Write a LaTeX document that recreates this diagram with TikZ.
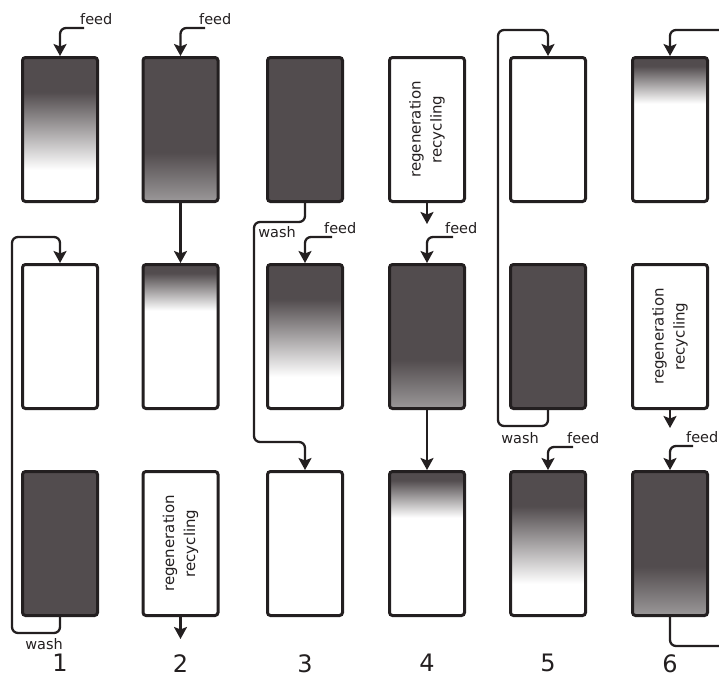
\documentclass[tikz,border=0pt]{standalone}
\usepackage{fontspec}
\setmainfont{DejaVu Sans}
\usepackage{xcolor}
\usepackage{tikz}
\usetikzlibrary{arrows.meta, positioning}
\definecolor{edgegray}{RGB}{35,31,32}
\definecolor{resin}{RGB}{82,76,78}
\definecolor{resinlow}{RGB}{155,152,153}
\pgfdeclareverticalshading{front}{100bp}{color(0bp)=(white); color(36bp)=(white); color(63bp)=(resin); color(100bp)=(resin)}
\pgfdeclareverticalshading{loaded}{100bp}{color(0bp)=(resinlow); color(25bp)=(resinlow); color(42bp)=(resin); color(100bp)=(resin)}
\pgfdeclareverticalshading{topband}{100bp}{color(0bp)=(white); color(59bp)=(white); color(72bp)=(resin); color(100bp)=(resin)}

\begin{document}
\begin{tikzpicture}[x=1pt, y=-1pt,
    col/.style={draw=edgegray, line width=3pt, rounded corners=3pt, minimum width=75pt, minimum height=144pt, inner sep=0pt},
    fullcol/.style={col, fill=resin},
    emptycol/.style={col, fill=white},
    frontcol/.style={col, shade, shading=front},
    loadedcol/.style={col, shade, shading=loaded},
    topcol/.style={col, shade, shading=topband},
    regencol/.style={col, fill=white, label={[rotate=90, align=center, text=edgegray, font=\fontsize{15}{21}\selectfont]center:regeneration\\recycling}},
    arr/.style={-{Stealth[length=12pt, width=13pt, inset=2.5pt]}, line width=2.3pt, edgegray, rounded corners=6pt},
    lbl/.style={font=\fontsize{14.5}{17}\selectfont, text=edgegray, inner sep=0pt},
    num/.style={font=\fontsize{24}{28}\selectfont, text=edgegray, inner sep=0pt}
]
\useasboundingbox (0,0) rectangle (719,680);

% first row
\node[frontcol] (a1) at (60,129.5) {};
\node[loadedcol] (a2) at (180.5,129.5) {};
\node[fullcol] (a3) at (305,129.5) {};
\node[regencol] (a4) at (427,129.5) {};
\node[emptycol] (a5) at (548,129.5) {};
\node[topcol] (a6) at (670,129.5) {};
% second row
\node[emptycol] (b1) at (60,336.5) {};
\node[topcol] (b2) at (180.5,336.5) {};
\node[frontcol] (b3) at (305,336.5) {};
\node[loadedcol] (b4) at (427,336.5) {};
\node[fullcol] (b5) at (548,336.5) {};
\node[regencol] (b6) at (670,336.5) {};
% third row
\node[fullcol] (c1) at (60,543.5) {};
\node[regencol] (c2) at (180.5,543.5) {};
\node[emptycol] (c3) at (305,543.5) {};
\node[topcol] (c4) at (427,543.5) {};
\node[frontcol] (c5) at (548,543.5) {};
\node[loadedcol] (c6) at (670,543.5) {};

% step numbers
\node[num, below=37pt of c1] (n1) {1};
\node[num, below=37pt of c2] (n2) {2};
\node[num, below=37pt of c3] (n3) {3};
\node[num, below=37pt of c4] (n4) {4};
\node[num, below=37pt of c5] (n5) {5};
\node[num, below=37pt of c6] (n6) {6};

% step 1
\coordinate (in1) at (84,28);
\node[lbl, above right=3pt and -4pt of in1] (fd1) {feed};
\draw[arr] (in1) -| (a1.north);
\coordinate (w1a) at (12,633);
\coordinate (w1b) at (12,237);
\draw[arr] (c1.south) |- (w1a) -- (w1b) -| (b1.north);
\node[lbl] (wa1) at (44,644) {wash};

% step 2
\coordinate (in2) at (205,28);
\node[lbl, above right=3pt and -6pt of in2] (fd2) {feed};
\draw[arr] (in2) -| (a2.north);
\draw[arr] (a2.south) -- (b2.north);
\coordinate (out2) at (180.5,639);
\draw[arr] (c2.south) -- (out2);

% step 3
\coordinate (w3a) at (254,222);
\coordinate (w3b) at (254,442);
\draw[arr] (a3.south) |- (w3a) -- (w3b) -| (c3.north);
\node[lbl] (wa3) at (277,232) {wash};
\coordinate (in3) at (332,237);
\node[lbl, above right=3pt and -8pt of in3] (fd3) {feed};
\draw[arr] (in3) -| (b3.north);

% step 4
\coordinate (out4) at (427,224);
\draw[arr] (a4.south) -- (out4);
\coordinate (in4) at (453,237);
\node[lbl, above right=3pt and -8pt of in4] (fd4) {feed};
\draw[arr] (in4) -| (b4.north);
\draw[arr] (b4.south) -- (c4.north);

% step 5
\coordinate (w5a) at (498,426);
\coordinate (w5b) at (498,30);
\draw[arr] (b5.south) |- (w5a) -- (w5b) -| (a5.north);
\node[lbl] (wa5) at (520,438) {wash};
\coordinate (in5) at (573,447);
\node[lbl, above right=3pt and -6pt of in5] (fd5) {feed};
\draw[arr] (in5) -| (c5.north);

% step 6
\coordinate (in6) at (719,30);
\draw[arr] (in6) -| (a6.north);
\coordinate (out6) at (670,428);
\draw[arr] (b6.south) -- (out6);
\coordinate (in6b) at (693,446);
\node[lbl, above right=3pt and -7pt of in6b] (fd6) {feed};
\draw[arr] (in6b) -| (c6.north);
\coordinate (out6b) at (719,646);
\draw[line width=2.3pt, edgegray, rounded corners=6pt] (c6.south) |- (out6b);
\end{tikzpicture}
\end{document}
